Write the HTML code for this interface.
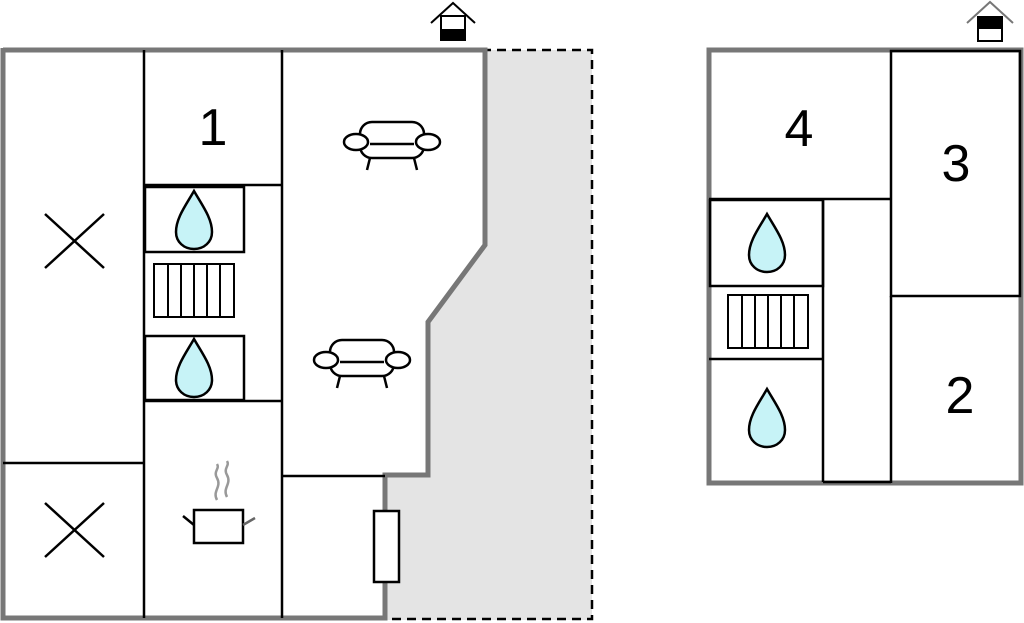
<!DOCTYPE html><html><head><style>body{margin:0;background:#fff}svg{display:block}</style></head><body>
<svg width="1024" height="623" viewBox="0 0 1024 623" xmlns="http://www.w3.org/2000/svg" font-family="Liberation Sans, sans-serif">
<defs>
<g id="drop"><path d="M0,-29 C8,-15 18,-2 18,12 C18,22 10,29 0,29 C-10,29 -18,22 -18,12 C-18,-2 -8,-15 0,-29Z" fill="#c7f3f7" stroke="#000" stroke-width="2.5"/></g>
<g id="sofa" fill="#fff" stroke="#000" stroke-width="2.5"><rect x="-32" y="-20" width="64" height="36" rx="12"/><line x1="-22" y1="2" x2="22" y2="2"/><ellipse cx="-36" cy="0" rx="12" ry="8"/><ellipse cx="36" cy="0" rx="12" ry="8"/><line x1="-22" y1="16" x2="-25" y2="28"/><line x1="22" y1="16" x2="25" y2="28"/></g>
<g id="stair" fill="#fff" stroke="#000" stroke-width="2"><rect x="0" y="0" width="80" height="53"/><line x1="14" y1="0" x2="14" y2="53"/><line x1="27" y1="0" x2="27" y2="53"/><line x1="40" y1="0" x2="40" y2="53"/><line x1="53" y1="0" x2="53" y2="53"/><line x1="66" y1="0" x2="66" y2="53"/></g>
</defs>
<!-- left plan -->
<polygon points="385,620 385,475 428,475 428,322 485,245 485,50 592,50 592,620" fill="#e4e4e4"/>
<polyline points="347,50 592,50 592,619 347,619" fill="none" stroke="#000" stroke-width="2.5" stroke-dasharray="9,6"/>
<polyline points="3,50 485,50 485,245 428,322 428,475 385,475 385,618 3,618 3,48" fill="none" stroke="#777" stroke-width="5"/>
<g stroke="#000" stroke-width="2.5" fill="none">
<line x1="144" y1="50" x2="144" y2="618"/><line x1="282" y1="50" x2="282" y2="618"/>
<line x1="144" y1="185" x2="282" y2="185"/>
<rect x="145" y="187" width="99" height="65"/><rect x="145" y="336" width="99" height="64"/>
<line x1="144" y1="401" x2="282" y2="401"/><line x1="3" y1="463" x2="144" y2="463"/>
<line x1="282" y1="476" x2="385" y2="476"/>
<line x1="45" y1="214" x2="104" y2="268"/><line x1="104" y1="214" x2="45" y2="268"/>
<line x1="45" y1="503" x2="104" y2="557"/><line x1="104" y1="503" x2="45" y2="557"/>
</g>
<rect x="374" y="511" width="25" height="71" fill="#fff" stroke="#000" stroke-width="2.5"/>
<use href="#stair" x="154" y="264"/>
<use href="#drop" x="194" y="220"/><use href="#drop" x="194" y="368"/>
<use href="#sofa" x="392" y="142"/><use href="#sofa" x="362" y="360"/>
<g stroke="#000" stroke-width="2.5" fill="#fff"><rect x="194" y="510" width="49" height="33"/><line x1="183" y1="516" x2="194" y2="525"/><line x1="243" y1="525" x2="255" y2="518" stroke="#666"/></g>
<path d="M217,500 c-5,-9 5,-13 0,-22 c-4,-7 3,-9 0,-14 M227,497 c-5,-9 5,-13 0,-22 c-4,-7 3,-9 0,-14" stroke="#999" stroke-width="2.5" fill="none"/>
<text x="213" y="145" font-size="52" text-anchor="middle">1</text>
<g stroke="#000" stroke-width="2" fill="#fff"><polyline points="431,23 453,3 475,23" fill="none"/><rect x="441" y="16" width="24" height="24"/><rect x="441" y="30" width="24" height="10" fill="#000"/></g>
<!-- right plan -->
<rect x="709" y="50" width="312" height="433" fill="none" stroke="#777" stroke-width="5"/>
<g stroke="#000" stroke-width="2.5" fill="none">
<rect x="891" y="51" width="129" height="245"/>
<line x1="891" y1="296" x2="891" y2="483"/>
<line x1="709" y1="199" x2="891" y2="199"/>
<rect x="710" y="200" width="113" height="86"/>
<line x1="823" y1="199" x2="823" y2="482"/><line x1="823" y1="482" x2="891" y2="482"/>
<line x1="709" y1="359" x2="823" y2="359"/>
</g>
<use href="#stair" x="728" y="295"/>
<use href="#drop" x="767" y="243"/><use href="#drop" x="767" y="418"/>
<text x="799" y="146" font-size="52" text-anchor="middle">4</text>
<text x="956" y="181" font-size="52" text-anchor="middle">3</text>
<text x="960" y="413" font-size="52" text-anchor="middle">2</text>
<g stroke="#000" stroke-width="2" fill="#fff"><polyline points="967,23 990,2 1013,23" fill="none" stroke="#777"/><rect x="978" y="17" width="24" height="24"/><rect x="978" y="17" width="24" height="11" fill="#000"/></g>
</svg>
</body></html>
